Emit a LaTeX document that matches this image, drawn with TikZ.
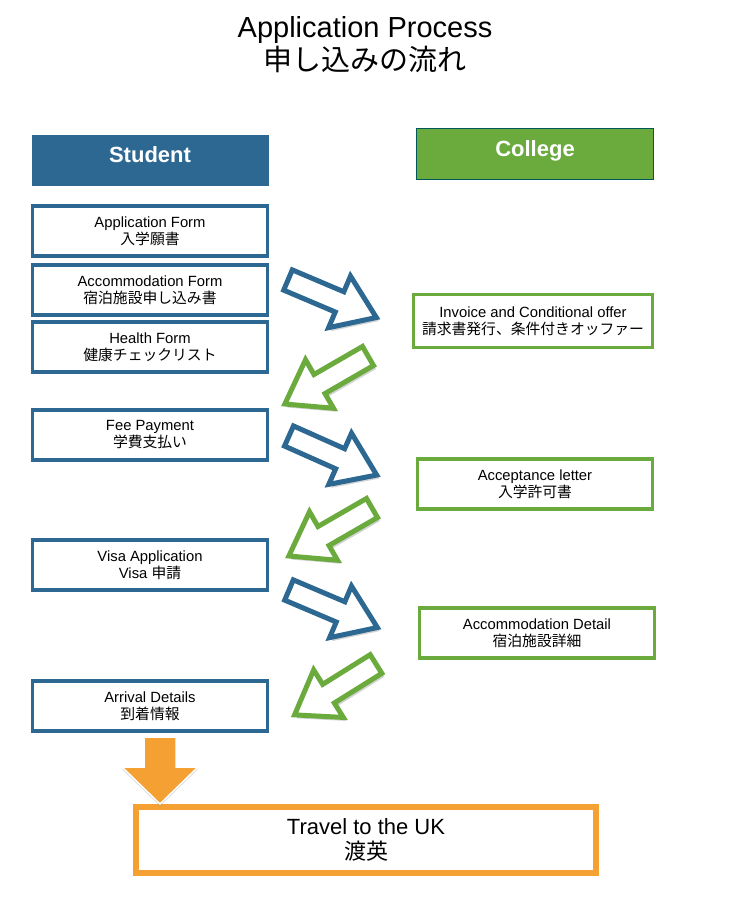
\documentclass[tikz,border=0pt]{standalone}
\usepackage{fontspec}
\setmainfont{Liberation Sans}
\newfontfamily\jp{Noto Sans CJK JP}
\usetikzlibrary{shadows}
\definecolor{stublue}{HTML}{2C6891}
\definecolor{colgreen}{HTML}{6BAA3D}
\definecolor{travorange}{HTML}{F5A033}
\newcommand{\blockarrow}[3]{\begin{scope}[shift={(#2)},rotate=#3]
    \draw[#1](0,-11)--(56,-11)--(56,-28)--(96,0)--(56,28)--(56,11)--(0,11)--cycle;
  \end{scope}}

\begin{document}
\begin{tikzpicture}[x=1pt,y=-1pt,
    every node/.style={align=center,font=\fontsize{14.8}{17}\selectfont},
    stubox/.style={draw=stublue,line width=3.3pt,fill=white,minimum width=235pt,minimum height=50pt},
    colbox/.style={draw=colgreen,line width=3.3pt,fill=white,minimum width=235pt,minimum height=50pt},
    head/.style={minimum width=237pt,minimum height=51pt,text=white,text depth=10pt,
      font=\fontsize{22}{26}\selectfont\bfseries},
    hollow/.style={draw=#1,line width=5pt,fill=white,line join=miter,
      drop shadow={opacity=0.35,shadow xshift=2.5pt,shadow yshift=-3.5pt}}]
  \useasboundingbox(0,0)rectangle(729,906);
  \node[font=\fontsize{29}{33}\selectfont](title)at(365,45){Application Process\\{\jp 申し込みの流れ}};
  \node[head,fill=stublue](student)at(150,160){Student};
  \node[head,fill=colgreen,draw=teal!70!black,line width=0.8pt](college)at(535,154){College};
  % student side
  \node[stubox](appform)at(150,231){Application Form\\{\jp 入学願書}};
  \node[stubox](accform)at(150,290){Accommodation Form\\{\jp 宿泊施設申し込み書}};
  \node[stubox](health)at(150,347){Health Form\\{\jp 健康チェックリスト}};
  \node[stubox](fee)at(150,435){Fee Payment\\{\jp 学費支払い}};
  \node[stubox](visa)at(150,565){Visa Application\\Visa {\jp 申請}};
  \node[stubox](arrival)at(150,706){Arrival Details\\{\jp 到着情報}};
  % college side
  \node[colbox,minimum width=239pt,minimum height=53pt](invoice)at(533,321)
    {Invoice and Conditional offer\\{\jp 請求書発行、条件付きオッファー}};
  \node[colbox](accept)at(535,484){Acceptance letter\\{\jp 入学許可書}};
  \node[colbox](accdetail)at(537,633){Accommodation Detail\\{\jp 宿泊施設詳細}};
  \node[draw=travorange,line width=6pt,minimum width=460pt,minimum height=66pt,
    font=\fontsize{22}{25}\selectfont](travel)at(366,840){Travel to the UK\\{\jp 渡英}};
  % block arrows
  \coordinate(b1)at(288,280);\coordinate(g1)at(368,356);
  \coordinate(b2)at(289,436);\coordinate(g2)at(372,508);
  \coordinate(b3)at(289,590);\coordinate(g3)at(376,664);
  \blockarrow{hollow=stublue}{b1}{-23}
  \blockarrow{hollow=colgreen}{g1}{210}
  \blockarrow{hollow=stublue}{b2}{-24}
  \blockarrow{hollow=colgreen}{g2}{210}
  \blockarrow{hollow=stublue}{b3}{-23}
  \blockarrow{hollow=colgreen}{g3}{212}
  \coordinate(drop)at(160,737);
  \fill[travorange,draw=white,line width=1.5pt,drop shadow={opacity=0.35,shadow xshift=0pt,shadow yshift=-2pt}]
    (drop)++(-16,0)--++(32,0)--++(0,30)--++(22,0)--++(-38,37)--++(-38,-37)--++(22,0)--cycle;
\end{tikzpicture}
\end{document}
